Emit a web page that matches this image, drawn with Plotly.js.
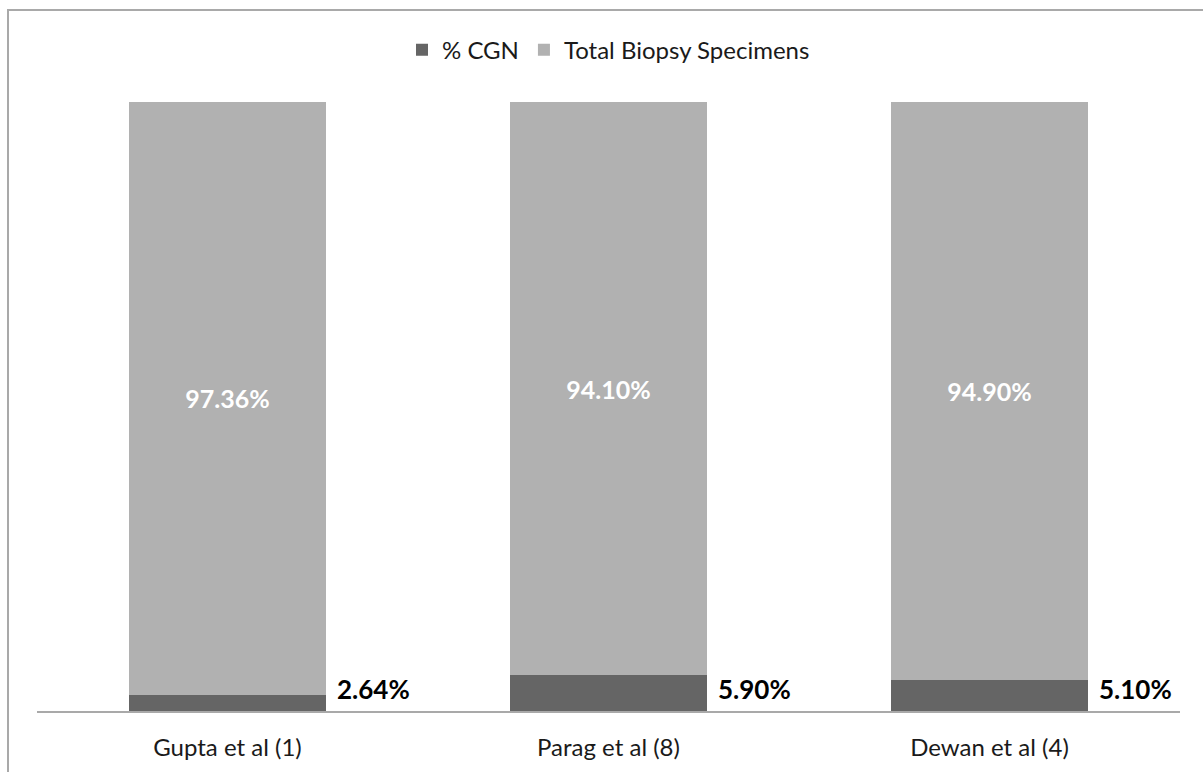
<!DOCTYPE html>
<html>
<head>
<meta charset="utf-8">
<script src="https://cdn.plot.ly/plotly-3.0.1.min.js"></script>
<style>
  html, body { margin: 0; padding: 0; background: #fff; }
  #chart { position: absolute; left: 0; top: 0; width: 1203px; height: 772px; }
  #frame { position: absolute; left: 7px; top: 9px; width: 1200px; height: 800px;
           border-left: 2px solid #a9a9a9; border-top: 2px solid #a9a9a9; pointer-events: none; }
</style>
</head>
<body>
<div id="chart"></div>
<div id="frame"></div>
<script>
const categories = ["Gupta et al (1)", "Parag et al (8)", "Dewan et al (4)"];
const cgnValues = [2.64, 5.90, 5.10];
const totalValues = [97.36, 94.10, 94.90];
const seriesNames = ["% CGN", "Total Biopsy Specimens"];

const fmt = v => v.toFixed(2) + "%";
const FONT = "Lato, 'Open Sans', sans-serif";

const traces = [
  {
    type: "bar", name: seriesNames[0], x: categories, y: cgnValues,
    marker: { color: "#656565" }, width: 0.517,
    hoverinfo: "none"
  },
  {
    type: "bar", name: seriesNames[1], x: categories, y: totalValues,
    marker: { color: "#b1b1b1" }, width: 0.517,
    text: totalValues.map(fmt), textposition: "inside", insidetextanchor: "middle",
    textangle: 0,
    textfont: { family: FONT, size: 25, color: "#ffffff", weight: "bold" },
    hoverinfo: "none"
  }
];

const annotations = categories.map((c, i) => ({
  x: c, y: 0, xref: "x", yref: "y",
  text: "<b>" + fmt(cgnValues[i]) + "</b>",
  showarrow: false, xanchor: "left", yanchor: "middle",
  xshift: 107, yshift: 22,
  font: { family: FONT, size: 26, color: "#000000" }
}));

const layout = {
  width: 1203, height: 772,
  margin: { l: 37, r: 23, t: 102, b: 61 },
  paper_bgcolor: "#ffffff", plot_bgcolor: "#ffffff",
  barmode: "stack",
  showlegend: true,
  legend: {
    orientation: "h", x: 0.5, xanchor: "center", y: 1.085, yanchor: "middle",
    font: { family: FONT, size: 24, color: "#1a1a1a" },
    traceorder: "normal", itemwidth: 30
  },
  xaxis: {
    showline: true, linecolor: "#a9a9a9", linewidth: 1.5,
    ticks: "", ticklabelstandoff: 15,
    tickfont: { family: FONT, size: 24, color: "#1a1a1a" },
    showgrid: false, zeroline: false, fixedrange: true
  },
  yaxis: {
    range: [0, 100], visible: false, showgrid: false, zeroline: false, fixedrange: true
  },
  annotations: annotations
};

Plotly.newPlot("chart", traces, layout, { displayModeBar: false, staticPlot: true });
</script>
</body>
</html>
